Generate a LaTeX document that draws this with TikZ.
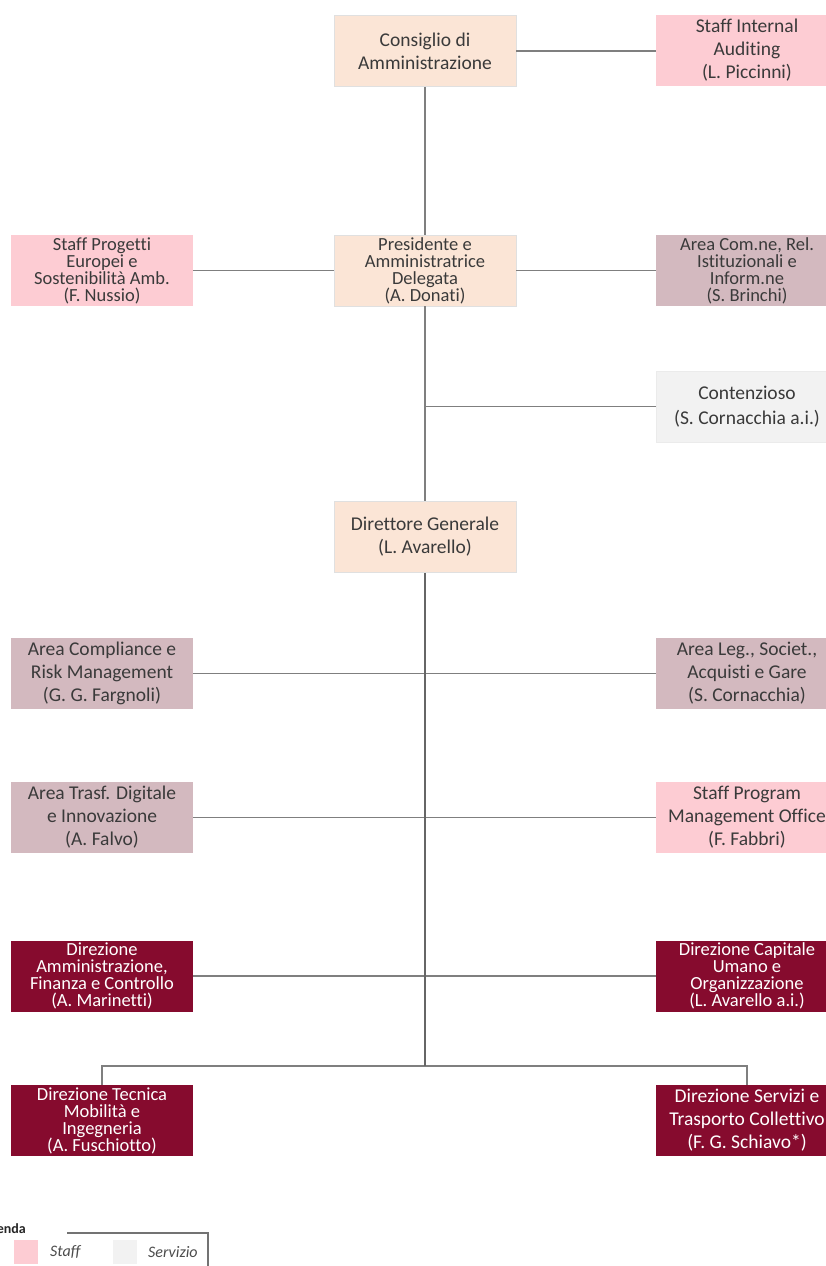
\documentclass[tikz,border=0pt]{standalone}
\usepackage{fontspec}
\setmainfont{Carlito}[Ligatures={NoCommon}]
\definecolor{peachc}{HTML}{FBE5D6}
\definecolor{staffc}{HTML}{FDCCD3}
\definecolor{areac}{HTML}{D3B9BF}
\definecolor{servc}{HTML}{F2F2F2}
\definecolor{dirc}{HTML}{860B2E}
\definecolor{linec}{HTML}{7F7F7F}
\definecolor{txtc}{HTML}{3A3A3A}
\begin{document}
\begin{tikzpicture}[x=1pt,y=-1pt,
  box/.style={minimum width=182pt, minimum height=71pt, inner sep=0pt, align=center,
    text=txtc, font=\fontsize{19.5}{23}\selectfont},
  tight/.style={font=\fontsize{18.5}{17}\selectfont},
  peach/.style={box, fill=peachc, draw=black!12, line width=0.6pt},
  staff/.style={box, fill=staffc},
  area/.style={box, fill=areac},
  serv/.style={box, fill=servc, draw=black!8, line width=0.6pt, font=\fontsize{19.5}{25}\selectfont},
  dir/.style={box, fill=dirc, text=white},
  conn/.style={draw=linec, line width=1.6pt},
  trunk/.style={draw=black!60, line width=2pt},
  legtxt/.style={font=\itshape\fontsize{16}{18}\selectfont, text=black!70, anchor=west, inner sep=0pt}
]
\useasboundingbox (0,0) rectangle (826,1266);
\clip (0,0) rectangle (826,1266);
\fill[white] (0,0) rectangle (826,1266);

% nodes
\node[peach] (cda) at (425,51) {Consiglio di\\Amministrazione};
\node[staff] (sia) at (747,50.5) {Staff Internal\\Auditing\\(L. Piccinni)};
\node[staff,tight] (spe) at (102,270.5) {Staff Progetti\\Europei e\\Sostenibilità Amb.\\(F. Nussio)};
\node[peach,tight] (pre) at (425,270.5) {Presidente e\\Amministratrice\\Delegata\\(A. Donati)};
\node[area,tight] (acr) at (747,270.5) {Area Com.ne, Rel.\\Istituzionali e\\Inform.ne\\(S. Brinchi)};
\node[serv] (con) at (747,406.5) {Contenzioso\\(S. Cornacchia a.i.)};
\node[peach] (dg) at (425,537) {Direttore Generale\\(L. Avarello)};
\node[area] (acm) at (102,673.5) {Area Compliance e\\Risk Management\\(G. G. Fargnoli)};
\node[area] (alg) at (747,673.5) {Area Leg., Societ.,\\Acquisti e Gare\\(S. Cornacchia)};
\node[area] (atd) at (102,817.5) {Area Trasf. Digitale\\e Innovazione\\(A. Falvo)};
\node[staff] (spm) at (747,817.5) {Staff Program\\Management Office\\(F. Fabbri)};
\node[dir,tight] (dam) at (102,976) {Direzione\\Amministrazione,\\Finanza e Controllo\\(A. Marinetti)};
\node[dir,tight] (dcu) at (747,976) {Direzione Capitale\\Umano e\\Organizzazione\\(L. Avarello a.i.)};
\node[dir,tight] (dte) at (102,1120.5) {Direzione Tecnica\\Mobilità e\\Ingegneria\\(A. Fuschiotto)};
\node[dir] (dse) at (747,1120.5) {Direzione Servizi e\\Trasporto Collettivo\\(F. G. Schiavo*)};

% connectors
\coordinate (bus) at (425,1066);
\draw[conn] (cda.east) -- (cda.east -| sia.west);
\draw[conn] (cda) -- (pre);
\draw[conn] (pre) -- (dg);
\draw[conn] (spe.east) -- (pre.west);
\draw[conn] (pre.east) -- (acr.west);
\draw[conn] (con.west) -- (con.west -| pre.south);
\draw[conn] (acm.east) -- (alg.west);
\draw[conn] (atd.east) -- (spm.west);
\draw[conn] (dam.east) -- (dcu.west);
\draw[conn] (dte.north) |- (bus) -| (dse.north);
\draw[trunk] (dg.south) -- (bus);

% legend
\node[font=\bfseries\fontsize{14}{16}\selectfont, text=black!85, anchor=east, inner sep=0pt] (leg) at (26,1230) {Legenda};
\coordinate (lg1) at (67,1233);
\coordinate (lg2) at (208,1233);
\coordinate (lg3) at (208,1270);
\draw[draw=black!55, line width=1.1pt] (lg1) -- (lg2) -- (lg3);
\node[fill=staffc, minimum size=24pt, inner sep=0pt] (lsq) at (26,1252) {};
\node[legtxt] (lst) at (50,1252) {Staff};
\node[fill=servc, minimum size=24pt, inner sep=0pt] (lgq) at (125,1252) {};
\node[legtxt] (lgt) at (148,1252) {Servizio};
\end{tikzpicture}
\end{document}
